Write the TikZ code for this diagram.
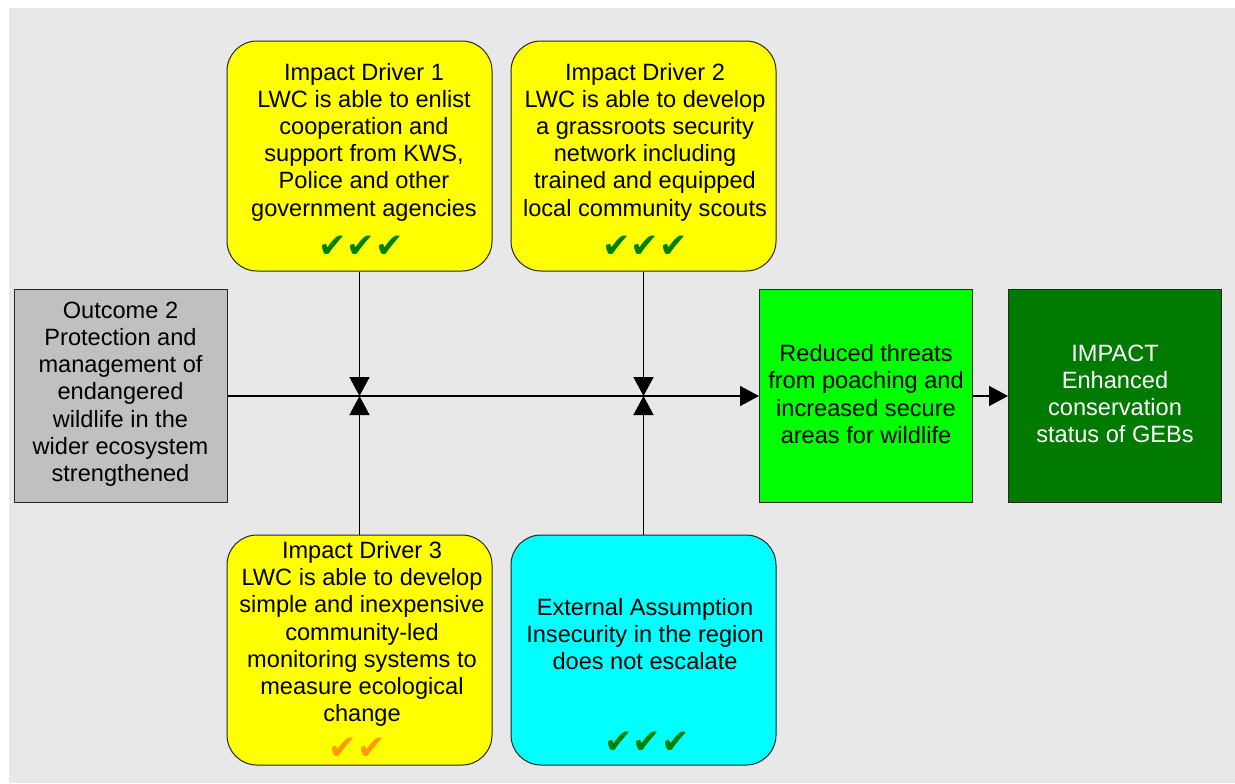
\documentclass[tikz,border=0pt]{standalone}
\usepackage{fontspec}
\setmainfont{Liberation Sans}
\newfontfamily\chk{DejaVu Sans}
\usetikzlibrary{arrows.meta}
\definecolor{bgc}{RGB}{232,232,232}
\definecolor{outc}{RGB}{192,192,192}
\definecolor{yel}{RGB}{255,255,0}
\definecolor{cya}{RGB}{0,255,255}
\definecolor{lgr}{RGB}{0,255,0}
\definecolor{dgr}{RGB}{0,122,0}
\definecolor{chkg}{RGB}{0,128,0}
\definecolor{chko}{RGB}{255,153,0}
\tikzset{
  box/.style={draw=black!85, line width=0.5pt, inner sep=0pt, minimum width=106.5pt, minimum height=106.5pt},
  rbox/.style={draw=black!85, line width=0.5pt, inner sep=0pt, rounded corners=15pt, minimum width=132.5pt, minimum height=115pt, fill=yel},
  txt/.style={align=center, inner sep=0pt, font=\fontsize{11.8pt}{13.6pt}\selectfont},
  ticks/.style={inner sep=0pt, font=\chk\fontsize{17pt}{17pt}\selectfont},
  arr/.style={line width=0.8pt, -{Triangle[length=9.5pt,width=10pt]}}
}
\begin{document}
\begin{tikzpicture}[x=0.5pt,y=-0.5pt]
\useasboundingbox (0,0) rectangle (1235,783);
\fill[bgc] (9,8) rectangle (1235,783);
% boxes
\node[box, fill=outc] (out) at (120.5,396) {};
\node[box, fill=lgr] (red) at (866,396) {};
\node[box, fill=dgr] (imp) at (1115,396) {};
\node[rbox] (id1) at (359.5,156) {};
\node[rbox] (id2) at (643.5,156) {};
\node[rbox] (id3) at (359.5,650) {};
\node[rbox, fill=cya] (ext) at (643.5,650) {};
% texts
\node[txt] (tout) at (120.5,394) {Outcome 2\\Protection and\\management of\\endangered\\wildlife in the\\wider ecosystem\\strengthened};
\node[txt] (tred) at (866,394) {Reduced threats\\from poaching and\\increased secure\\areas for wildlife};
\node[txt, text=white] (timp) at (1115,394) {IMPACT\\Enhanced\\conservation\\status of GEBs};
\node[txt] (tid1) at (364,142) {Impact Driver 1\\LWC is able to enlist\\cooperation and\\support from KWS,\\Police and other\\government agencies};
\node[txt] (tid2) at (645,142) {Impact Driver 2\\LWC is able to develop\\a grassroots security\\network including\\trained and equipped\\local community scouts};
\node[txt] (tid3) at (362,634) {Impact Driver 3\\LWC is able to develop\\simple and inexpensive\\community-led\\monitoring systems to\\measure ecological\\change};
\node[txt] (text) at (645,634) {External Assumption\\Insecurity in the region\\does not escalate};
\node[ticks, text=chkg] (k1) at (361,247) {✔✔✔};
\node[ticks, text=chkg] (k2) at (645,247) {✔✔✔};
\node[ticks, text=chko] (k3) at (357,749) {✔✔};
\node[ticks, text=chkg] (k4) at (647,743) {✔✔✔};
% junctions
\coordinate (j1) at (id1.south |- out.east);
\coordinate (j2) at (id2.south |- out.east);
% connectors
\draw[arr] (out.east) -- (red.west);
\draw[arr] (red.east) -- (imp.west);
\draw[arr] (id1.south) -- (j1);
\draw[arr] (id3.north) -- (j1);
\draw[arr] (id2.south) -- (j2);
\draw[arr] (ext.north) -- (j2);
\end{tikzpicture}
\end{document}
